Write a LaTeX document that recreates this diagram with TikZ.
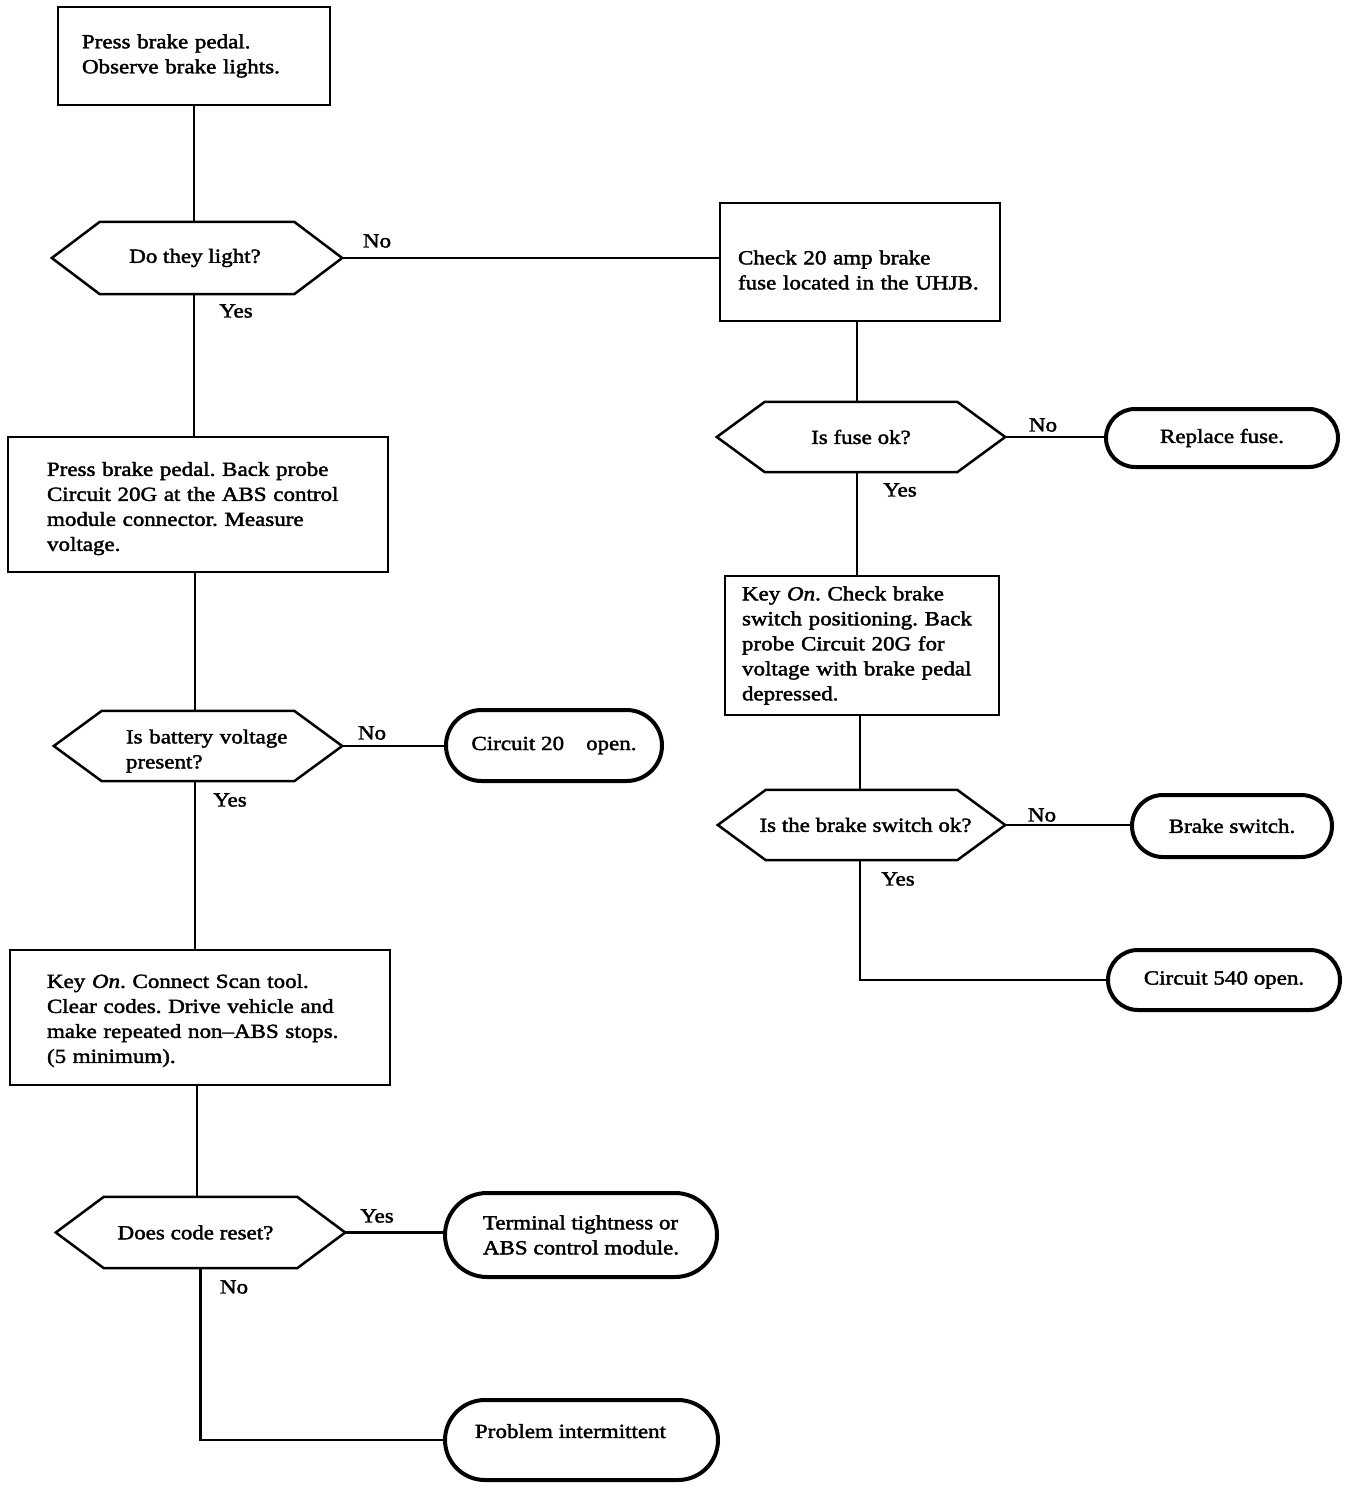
\documentclass[tikz,border=0pt]{standalone}
\usepackage{fontspec}
\setmainfont{Liberation Serif}[FakeStretch=1.15, FakeBold=2]
\usetikzlibrary{shapes.misc}
\tikzset{
  every node/.style={font=\fontsize{20}{25}\selectfont},
  stepbox/.style={draw, line width=2.5pt, rectangle, align=left, inner ysep=0pt},
  decision/.style={rectangle, inner sep=0pt},
  hexline/.style={line width=2.5pt, line join=miter},
  terminal/.style={draw, rounded rectangle, line width=4pt, align=left, inner sep=0pt},
  conn/.style={line width=2.5pt},
  lbl/.style={inner sep=0pt}
}
\newcommand\hexdraw[1]{\draw[hexline] (#1.west) -- ([xshift=48pt]#1.north west) -- ([xshift=-48pt]#1.north east) -- (#1.east) -- ([xshift=-48pt]#1.south east) -- ([xshift=48pt]#1.south west) -- cycle;}
\begin{document}
\frenchspacing
\begin{tikzpicture}[x=1pt,y=-1pt]
\useasboundingbox (0,0) rectangle (1360,1490);
% left column
\node[stepbox, inner xsep=24pt, text width=224pt, minimum height=98pt] (b1) at (194,56) {Press brake pedal.\\Observe brake lights.};
\node[decision, minimum width=290pt, minimum height=72pt] (h1) at (197,258) {\hspace*{-4pt}Do they light?};
\hexdraw{h1}
\node[stepbox, inner xsep=39pt, text width=302pt, minimum height=135pt] (b3) at (198,504.5) {\rule{0pt}{22pt}Press brake pedal. Back probe\\Circuit 20G at the ABS control\\module connector. Measure\\voltage.};
\node[decision, minimum width=288pt, minimum height=70pt, align=left, text width=200pt] (h4) at (198,746) {\rule{0pt}{24pt}\hspace*{28pt}Is battery voltage\\\hspace*{28pt}present?};
\hexdraw{h4}
\node[terminal, minimum width=216pt, minimum height=71pt] (t2) at (554,745.5) {Circuit 20\hspace{22pt}open.};
\node[stepbox, inner xsep=37pt, text width=306pt, minimum height=135pt] (b4) at (200,1017.5) {\rule{0pt}{20pt}Key \textit{On}. Connect Scan tool.\\Clear codes. Drive vehicle and\\make repeated non--ABS stops.\\(5 minimum).};
\node[decision, minimum width=289pt, minimum height=71pt] (h5) at (200.5,1232.5) {\hspace*{-10pt}Does code reset?};
\hexdraw{h5}
\node[terminal, minimum width=272pt, minimum height=84pt] (t5) at (581,1235) {Terminal tightness or\\ABS control module.};
\node[terminal, minimum width=273pt, minimum height=80pt, text depth=18pt] (t6) at (581.5,1440) {\hspace*{-22pt}Problem intermittent};
% right column
\node[stepbox, inner xsep=18pt, text width=244pt, minimum height=118pt] (b2) at (860,262) {\rule{0pt}{30pt}Check 20 amp brake\\fuse located in the UHJB.};
\node[decision, minimum width=288pt, minimum height=70pt] (h2) at (861,437) {Is fuse ok?};
\hexdraw{h2}
\node[terminal, minimum width=232pt, minimum height=58pt] (t1) at (1222,438) {Replace fuse.};
\node[stepbox, inner xsep=17pt, text width=240pt, minimum height=139pt] (br) at (862,645.5) {Key \textit{On}. Check brake\\switch positioning. Back\\probe Circuit 20G for\\voltage with brake pedal\\depressed.};
\node[decision, minimum width=287pt, minimum height=70pt] (h3) at (861.5,825) {\hspace*{8pt}Is the brake switch ok?};
\hexdraw{h3}
\node[terminal, minimum width=200pt, minimum height=62pt] (t3) at (1232,826) {Brake switch.};
\node[terminal, minimum width=232pt, minimum height=60pt] (t4) at (1224,980) {Circuit 540 open.};
% connectors
\draw[conn] (b1.south) -- (b1.south |- h1.north);
\draw[conn] (h1.south -| b1.south) -- (b1.south |- b3.north);
\draw[conn] (h1.east) -- (h1.east -| b2.west);
\draw[conn] ([xshift=-3pt]b3.south) -- ([xshift=-3pt]b3.south |- h4.north);
\draw[conn] ([xshift=-3pt]h4.south) -- ([xshift=-3pt]h4.south |- b4.north);
\draw[conn] (h4.east) -- (h4.east -| t2.west);
\draw[conn] ([xshift=-3pt]b4.south) -- ([xshift=-3pt]b4.south |- h5.north);
\draw[conn] (h5.east) -- (h5.east -| t5.west);
\draw[conn] (h5.south) |- (t6.west);
\draw[conn] ([xshift=-3pt]b2.south) -- ([xshift=-3pt]b2.south |- h2.north);
\draw[conn] ([xshift=-4pt]h2.south) -- ([xshift=-4pt]h2.south |- br.north);
\draw[conn] (h2.east) -- (h2.east -| t1.west);
\draw[conn] ([xshift=-2pt]br.south) -- ([xshift=-2pt]br.south |- h3.north);
\draw[conn] (h3.east) -- (h3.east -| t3.west);
\draw[conn] ([xshift=-1.5pt]h3.south) |- (t4.west);
% labels
\node[lbl] (l1) at (377,241) {No};
\node[lbl] (l2) at (236,311) {Yes};
\node[lbl] (l3) at (1043,425) {No};
\node[lbl] (l4) at (900,490) {Yes};
\node[lbl] (l5) at (372,733) {No};
\node[lbl] (l6) at (230,800) {Yes};
\node[lbl] (l7) at (1042,815) {No};
\node[lbl] (l8) at (898,879) {Yes};
\node[lbl] (l9) at (377,1216) {Yes};
\node[lbl] (l10) at (234,1287) {No};
\end{tikzpicture}
\end{document}
